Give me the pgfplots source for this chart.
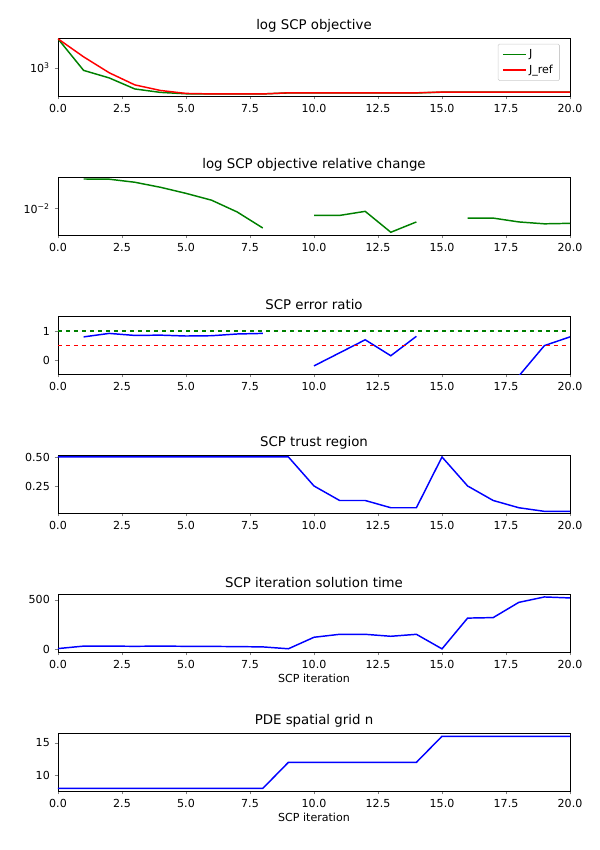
\documentclass[border=0pt]{standalone}
\usepackage{pgfplots}
\pgfplotsset{compat=1.18}
\usepackage{fontspec}
\setmainfont{DejaVu Sans}
\pgfplotsset{
  every axis/.style={scale only axis, width=384pt, height=43.5pt, xmin=0, xmax=20,
    xtick={0,2.5,...,20}, xticklabel style={/pgf/number format/.cd,fixed,fixed zerofill,precision=1},
    /pgf/number format/assume math mode=true,
    tick label style={font=\fontsize{8.3}{9}\selectfont},
    title style={font=\fontsize{10}{11}\selectfont, yshift=-5pt},
    label style={font=\fontsize{8.3}{9}\selectfont},
    tick align=outside, major tick length=2.6pt, minor tick length=1.5pt,
    xtick pos=bottom, ytick pos=left, unbounded coords=jump,
    every axis plot/.append style={line width=1.1pt}, anchor=north west},
}
\definecolor{mplgreen}{rgb}{0,0.5,0}
\definecolor{mplred}{rgb}{1,0,0}
\begin{document}
\begin{tikzpicture}
\path[use as bounding box] (-43.5pt,28.5pt) rectangle (406.5pt,-609pt);
\begin{axis}[at={(0,0)}, title={log SCP objective}, ymode=log, ymin=330, ymax=3200,
  ytick={1000}, yticklabels={10\textsuperscript{3}},
  legend style={at={(0.98,0.9)},anchor=north east,font=\fontsize{8.3}{9}\selectfont, draw=black!20, rounded corners=1pt}, legend cell align=left]
\addplot[mplgreen] coordinates {(0,3100)(1,900)(2,670)(3,435)(4,380)(5,360)(6,358)(7,358)(8,358)(9,372)(10,372)(11,372)(12,372)(13,372)(14,372)(15,383)(16,383)(17,383)(18,383)(19,383)(20,383)};
\addlegendentry{J}
\addplot[mplred] coordinates {(0,3100)(1,1530)(2,820)(3,510)(4,410)(5,365)(6,358)(7,358)(8,358)(9,374)(10,374)(11,374)(12,374)(13,374)(14,374)(15,385)(16,385)(17,385)(18,385)(19,385)(20,385)};
\addlegendentry{J\_ref}
\end{axis}
\begin{axis}[at={(0,-104.25pt)}, title={log SCP objective relative change}, ymode=log, ymin=0.004, ymax=0.03,
  ytick={0.01}, yticklabels={10\textsuperscript{−2}}, minor ytick={}]
\addplot[mplgreen] coordinates {(1,0.028)(2,0.0278)(3,0.025)(4,0.021)(5,0.017)(6,0.0134)(7,0.0089)(8,0.0051)(9,nan)(10,0.0079)(11,0.0079)(12,0.0091)(13,0.0044)(14,0.0063)(15,nan)(16,0.0072)(17,0.0072)(18,0.0063)(19,0.0059)(20,0.006)};
\end{axis}
\begin{axis}[at={(0,-208.5pt)}, title={SCP error ratio}, ymin=-0.48, ymax=1.52, ytick={0,1}]
\addplot[blue] coordinates {(1,0.8)(2,0.92)(3,0.85)(4,0.86)(5,0.83)(6,0.84)(7,0.9)(8,0.92)(9,nan)(10,-0.2)(11,0.25)(12,0.7)(13,0.15)(14,0.82)(15,nan)(17,nan)(17.9,-0.7)(18,-0.55)(19,0.5)(20,0.8)};
\addplot[color=mplgreen, dashed, line width=1pt] coordinates {(0,1)(20,1)};
\addplot[color=mplred, dashed, line width=1pt] coordinates {(0,0.5)(20,0.5)};
\end{axis}
\begin{axis}[at={(0,-312.75pt)}, title={SCP trust region}, ymin=0.017, ymax=0.517, ytick={0.25,0.5},
  yticklabel style={/pgf/number format/.cd,fixed,fixed zerofill,precision=2}]
\addplot[blue] coordinates {(0,0.5)(1,0.5)(2,0.5)(3,0.5)(4,0.5)(5,0.5)(6,0.5)(7,0.5)(8,0.5)(9,0.5)(10,0.25)(11,0.125)(12,0.125)(13,0.0625)(14,0.0625)(15,0.5)(16,0.25)(17,0.125)(18,0.0625)(19,0.03125)(20,0.03125)};
\end{axis}
\begin{axis}[at={(0,-417pt)}, title={SCP iteration solution time}, ymin=-30, ymax=560, ytick={0,500}, xlabel={SCP iteration}, xlabel style={yshift=3pt}]
\addplot[blue] coordinates {(0,5)(1,30)(2,30)(3,28)(4,30)(5,28)(6,27)(7,25)(8,22)(9,3)(10,120)(11,150)(12,150)(13,130)(14,150)(15,2)(16,315)(17,320)(18,475)(19,530)(20,520)};
\end{axis}
\begin{axis}[at={(0,-521.25pt)}, title={PDE spatial grid n}, ymin=7.6, ymax=16.5, ytick={10,15}, xlabel={SCP iteration}, xlabel style={yshift=3pt}]
\addplot[blue] coordinates {(0,8)(1,8)(2,8)(3,8)(4,8)(5,8)(6,8)(7,8)(8,8)(9,12)(10,12)(11,12)(12,12)(13,12)(14,12)(15,16)(16,16)(17,16)(18,16)(19,16)(20,16)};
\end{axis}
\end{tikzpicture}
\end{document}
